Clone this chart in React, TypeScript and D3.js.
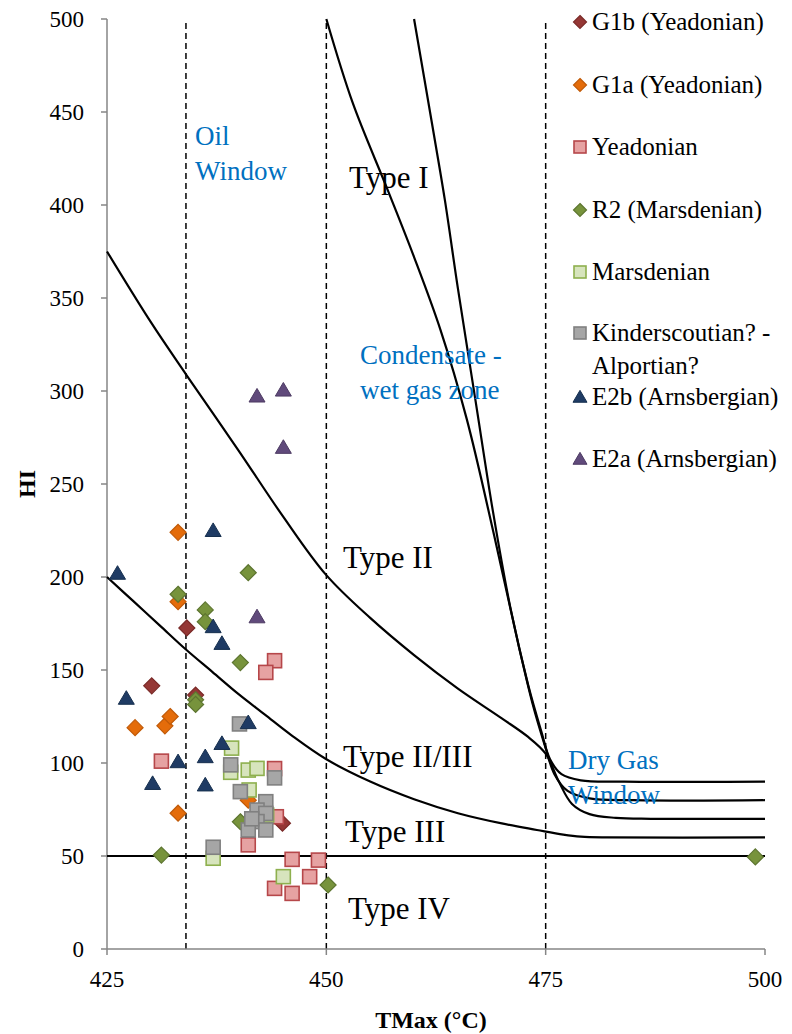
import React from "react";
import * as d3 from "d3";

const W = 792;
const H = 1034;
const M = { left: 107, right: 765, top: 19, bottom: 949 };

const xTicks = [425, 450, 475, 500];
const yTicks = [0, 50, 100, 150, 200, 250, 300, 350, 400, 450, 500];
const windowLines = [434, 450, 475];

type P = [number, number];

const curveTypeIIIII: P[] = [[425, 200], [428, 187], [431, 174], [434, 161], [437, 149], [440, 137], [443, 126], [446, 115], [450, 102], [455, 90], [460, 80.5], [465, 73], [470, 67.5], [474, 64], [477, 61.5], [479, 60.4], [482, 60], [500, 60]];
const curveTypeII: P[] = [[425, 375], [430, 337], [434, 309], [440, 268], [445, 233], [450, 201], [455, 178], [460, 158], [465, 140], [470, 124], [473, 114], [475, 105], [476.5, 90], [478, 78], [480, 72.5], [483, 70.5], [487, 70], [500, 70]];
const curveTypeI_a: P[] = [[450, 500], [453, 455], [457, 408], [460, 372], [463, 333], [466, 285], [469, 225], [471.5, 172], [473.5, 132], [475, 108], [476, 94], [477.5, 85], [480, 81], [485, 80], [500, 80]];
const curveTypeI_b: P[] = [[460, 500], [462, 445], [463.5, 403], [465, 355], [467, 295], [469, 235], [471, 183], [473, 142], [474.5, 117], [475.5, 102], [476.8, 94], [479, 90.7], [484, 90], [500, 90]];
const typeIVLine: P[] = [[425, 50], [500, 50]];

const g1b: P[] = [[430.1, 141.5], [434.1, 172.6], [435.1, 136.5], [445.0, 67.6]];
const g1a: P[] = [[433.1, 224], [433.1, 186.7], [428.2, 119], [431.6, 120], [432.2, 125], [433.1, 73], [441.1, 80]];
const yeadonian: P[] = [[444.1, 155], [443.1, 148.7], [431.2, 101], [444.1, 97], [444.3, 71.1], [441.1, 56], [446.1, 48.2], [449.1, 47.8], [448.1, 38.9], [444.1, 32.6], [446.1, 29.9]];
const r2: P[] = [[433.1, 190.7], [436.2, 182.3], [436.2, 176], [441.1, 202.3], [435.1, 134], [435.1, 131.5], [440.2, 154], [440.2, 68.4], [431.2, 50.5], [450.2, 34.4], [498.9, 49.5]];
const marsdenian: P[] = [[439.2, 108], [439.1, 95], [441.1, 96.2], [442.1, 97.1], [441.2, 85.5], [443.2, 72], [437.1, 48.8], [445.1, 38.9]];
const kinderscoutian: P[] = [[440.1, 121], [439.1, 99], [444.1, 92], [440.2, 84.6], [443.1, 79.2], [442.1, 74.7], [443.1, 72.9], [442.1, 68.5], [443.1, 64], [441.1, 64], [441.5, 70], [437.1, 54.7]];
const e2b: P[] = [[426.2, 202], [437.1, 225], [437.1, 173.3], [438.1, 164.3], [427.2, 134.8], [441.1, 121.7], [438.1, 110.5], [436.2, 103.4], [433.1, 100.7], [430.2, 89], [436.2, 88.2]];
const e2a: P[] = [[442.1, 297.3], [445.1, 300.5], [445.1, 269.7], [442.1, 178.6]];

type Series = { name: string[]; data: P[]; shape: "diamond" | "square" | "triangle"; fill: string; stroke: string };
const seriesList: Series[] = [
  { name: ["G1b (Yeadonian)"], data: g1b, shape: "diamond", fill: "#953735", stroke: "#7a2a28" },
  { name: ["G1a (Yeadonian)"], data: g1a, shape: "diamond", fill: "#E46C0A", stroke: "#c05a08" },
  { name: ["Yeadonian"], data: yeadonian, shape: "square", fill: "#E6A2A2", stroke: "#B6474A" },
  { name: ["R2 (Marsdenian)"], data: r2, shape: "diamond", fill: "#77933C", stroke: "#5d7530" },
  { name: ["Marsdenian"], data: marsdenian, shape: "square", fill: "#D7E4BD", stroke: "#8EB04E" },
  { name: ["Kinderscoutian? -", "Alportian?"], data: kinderscoutian, shape: "square", fill: "#A6A6A6", stroke: "#808080" },
  { name: ["E2b (Arnsbergian)"], data: e2b, shape: "triangle", fill: "#1F3B64", stroke: "#17304f" },
  { name: ["E2a (Arnsbergian)"], data: e2a, shape: "triangle", fill: "#604A7B", stroke: "#4d3b63" },
];
const legendY = [22, 85, 147, 210, 272, 333, 397, 459];

const x = d3.scaleLinear().domain([425, 500]).range([M.left, M.right]);
const y = d3.scaleLinear().domain([0, 500]).range([M.bottom, M.top]);
const line = d3.line<P>().x((d) => x(d[0])).y((d) => y(d[1])).curve(d3.curveCatmullRom.alpha(0.5));

function Marker({ shape, cx, cy, fill, stroke, r }: { shape: string; cx: number; cy: number; fill: string; stroke: string; r: number }) {
  if (shape === "diamond") {
    return <path d={`M${cx},${cy - r}L${cx + r},${cy}L${cx},${cy + r}L${cx - r},${cy}Z`} fill={fill} stroke={stroke} strokeWidth={1.2} />;
  }
  if (shape === "square") {
    return <rect x={cx - r} y={cy - r} width={2 * r} height={2 * r} fill={fill} stroke={stroke} strokeWidth={1.6} />;
  }
  return <path d={`M${cx},${cy - r * 0.95}L${cx + r},${cy + r * 0.75}L${cx - r},${cy + r * 0.75}Z`} fill={fill} stroke={stroke} strokeWidth={1} />;
}

const font = "'Liberation Serif', 'Times New Roman', serif";

export default function App() {
  const blue = "#0070C0";
  return (
    <svg width={W} height={H} style={{ position: "absolute", left: 0, top: 0, background: "#fff" }} fontFamily={font}>
      <rect x={0} y={0} width={W} height={H} fill="#fff" />
      {windowLines.map((v) => (
        <line key={v} x1={x(v)} x2={x(v)} y1={y(0)} y2={y(500)} stroke="#000" strokeWidth={1.5} strokeDasharray="6,4" />
      ))}
      <line x1={M.left} x2={M.left} y1={M.top} y2={M.bottom} stroke="#868686" strokeWidth={1.5} />
      <line x1={M.left} x2={M.right} y1={M.bottom} y2={M.bottom} stroke="#868686" strokeWidth={1.5} />
      {yTicks.map((t) => (
        <g key={t}>
          <line x1={M.left - 6} x2={M.left} y1={y(t)} y2={y(t)} stroke="#868686" strokeWidth={1.5} />
          <text x={84} y={y(t) + 8} textAnchor="end" fontSize={23}>{t}</text>
        </g>
      ))}
      {xTicks.map((t) => (
        <g key={t}>
          <line x1={x(t)} x2={x(t)} y1={M.bottom} y2={M.bottom + 6} stroke="#868686" strokeWidth={1.5} />
          <text x={x(t)} y={987} textAnchor="middle" fontSize={23}>{t}</text>
        </g>
      ))}
      <text x={431} y={1028} textAnchor="middle" fontSize={24} fontWeight="bold">TMax (°C)</text>
      <text transform={`translate(35,${y(250)}) rotate(-90)`} textAnchor="middle" fontSize={24} fontWeight="bold">HI</text>

      {[curveTypeIIIII, curveTypeII, curveTypeI_a, curveTypeI_b].map((c, i) => (
        <path key={i} d={line(c) || ""} fill="none" stroke="#000" strokeWidth={2.2} />
      ))}
      <path d={d3.line<P>().x((d) => x(d[0])).y((d) => y(d[1]))(typeIVLine) || ""} stroke="#000" strokeWidth={2.2} />

      <text x={195} y={145} fontSize={27} fill={blue}>Oil</text>
      <text x={195} y={180} fontSize={27} fill={blue}>Window</text>
      <text x={360} y={364} fontSize={27} fill={blue}>Condensate -</text>
      <text x={360} y={399} fontSize={27} fill={blue}>wet gas zone</text>
      <text x={568} y={769} fontSize={27} fill={blue}>Dry Gas</text>
      <text x={568} y={804} fontSize={27} fill={blue}>Window</text>
      <text x={349} y={188} fontSize={31}>Type I</text>
      <text x={343} y={568} fontSize={31}>Type II</text>
      <text x={343} y={767} fontSize={31}>Type II/III</text>
      <text x={345} y={842} fontSize={31}>Type III</text>
      <text x={348} y={919} fontSize={31}>Type IV</text>

      {seriesList.map((s) => (
        <g key={s.name[0]}>
          {s.data.map((d, i) => (
            <Marker key={i} shape={s.shape} cx={x(d[0])} cy={y(d[1])} fill={s.fill} stroke={s.stroke} r={s.shape === "square" ? 7 : 8} />
          ))}
        </g>
      ))}

      {seriesList.map((s, i) => (
        <g key={"lg" + i}>
          <Marker shape={s.shape} cx={580} cy={legendY[i]} fill={s.fill} stroke={s.stroke} r={s.shape === "square" ? 6 : s.shape === "diamond" ? 6.5 : 7} />
          {s.name.map((n, j) => (
            <text key={j} x={592} y={legendY[i] + 8 + j * 33} fontSize={25}>{n}</text>
          ))}
        </g>
      ))}
    </svg>
  );
}
